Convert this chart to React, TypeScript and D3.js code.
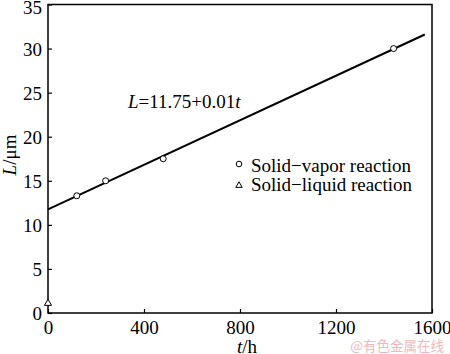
import React, { useEffect, useRef } from "react";
import * as d3 from "d3";

// measured points
const vaporT = [120, 240, 480, 1440];
const vaporL = [13.3, 15.0, 17.5, 30.0];
const liquidT = [0];
const liquidL = [1.1];
// fitted line as drawn in the figure
const fitT = [0, 1570];
const fitL = [11.75, 31.6];

const xTicks = [0, 400, 800, 1200, 1600];
const yTicks = [0, 5, 10, 15, 20, 25, 30, 35];
const legendLabels = ["Solid\u2212vapor reaction", "Solid\u2212liquid reaction"];

const App = () => {
  const ref = useRef<SVGSVGElement>(null);

  useEffect(() => {
    const width = 450;
    const height = 354;
    const m = { left: 48, right: 18, top: 4.5, bottom: 41 };
    const font = "'Liberation Serif', 'Times New Roman', serif";

    const svg = d3.select(ref.current);
    svg.selectAll("*").remove();

    const x = d3.scaleLinear().domain([0, 1600]).range([m.left, width - m.right]);
    const y = d3.scaleLinear().domain([0, 35]).range([height - m.bottom, m.top]);

    svg.append("rect").attr("width", width).attr("height", height).attr("fill", "#fff");

    // frame
    svg
      .append("rect")
      .attr("x", x(0))
      .attr("y", y(35))
      .attr("width", x(1600) - x(0))
      .attr("height", y(0) - y(35))
      .attr("fill", "none")
      .attr("stroke", "#000")
      .attr("stroke-width", 1.5);

    // bottom axis, ticks inward
    const xa = svg
      .append("g")
      .attr("transform", `translate(0,${y(0)})`)
      .call(d3.axisBottom(x).tickValues(xTicks).tickSize(-4).tickPadding(8).tickFormat(d3.format("d")));
    xa.select(".domain").remove();
    xa.selectAll("line").attr("stroke-width", 1.2);
    xa.selectAll("text").attr("font-family", font).attr("font-size", 19).attr("fill", "#000");

    // left axis, ticks inward
    const ya = svg
      .append("g")
      .attr("transform", `translate(${x(0)},0)`)
      .call(d3.axisLeft(y).tickValues(yTicks).tickSize(-4).tickPadding(6).tickFormat(d3.format("d")));
    ya.select(".domain").remove();
    ya.selectAll("line").attr("stroke-width", 1.2);
    ya.selectAll("text").attr("font-family", font).attr("font-size", 19).attr("fill", "#000");
    ya.selectAll<SVGTextElement, number>("text").attr("dy", (d) => (d === 35 ? "0.48em" : "0.36em"));

    // fitted line
    const line = d3
      .line<number>()
      .x((_, i) => x(fitT[i]))
      .y((d) => y(d));
    svg
      .append("path")
      .attr("d", line(fitL))
      .attr("fill", "none")
      .attr("stroke", "#000")
      .attr("stroke-width", 2);

    // circles
    svg
      .selectAll("circle.vap")
      .data(vaporL)
      .enter()
      .append("circle")
      .attr("class", "vap")
      .attr("cx", (_, i) => x(vaporT[i]))
      .attr("cy", (d) => y(d))
      .attr("r", 3)
      .attr("fill", "#fff")
      .attr("stroke", "#000")
      .attr("stroke-width", 1);

    // triangles
    const tri = d3.symbol().type(d3.symbolTriangle).size(22);
    svg
      .selectAll("path.liq")
      .data(liquidL)
      .enter()
      .append("path")
      .attr("class", "liq")
      .attr("d", tri)
      .attr("transform", (d, i) => `translate(${x(liquidT[i])},${y(d)})`)
      .attr("fill", "#fff")
      .attr("stroke", "#000")
      .attr("stroke-width", 1);

    // equation
    const eq = svg
      .append("text")
      .attr("x", 128)
      .attr("y", 108)
      .attr("font-family", font)
      .attr("font-size", 19)
      .attr("fill", "#000");
    eq.append("tspan").attr("font-style", "italic").text("L");
    eq.append("tspan").text("=11.75+0.01");
    eq.append("tspan").attr("font-style", "italic").text("t");

    // legend
    const lg = svg.append("g");
    lg.append("circle")
      .attr("cx", 239)
      .attr("cy", 164)
      .attr("r", 2.8)
      .attr("fill", "#fff")
      .attr("stroke", "#000");
    lg.append("path")
      .attr("d", d3.symbol().type(d3.symbolTriangle).size(18)())
      .attr("transform", "translate(239,185.5)")
      .attr("fill", "#fff")
      .attr("stroke", "#000");
    lg.selectAll("text")
      .data(legendLabels)
      .enter()
      .append("text")
      .attr("x", 251)
      .attr("y", (_, i) => 172 + i * 19)
      .attr("font-family", font)
      .attr("font-size", 19)
      .attr("fill", "#000")
      .text((d) => d);

    // axis titles
    const yl = svg
      .append("text")
      .attr("transform", "translate(16,155) rotate(-90)")
      .attr("text-anchor", "middle")
      .attr("font-family", font)
      .attr("font-size", 19)
      .attr("fill", "#000");
    yl.append("tspan").attr("font-style", "italic").text("L");
    yl.append("tspan").text("/\u03bcm");

    const xl = svg
      .append("text")
      .attr("x", 247)
      .attr("y", 352.5)
      .attr("text-anchor", "middle")
      .attr("font-family", font)
      .attr("font-size", 19)
      .attr("fill", "#000");
    xl.append("tspan").attr("font-style", "italic").text("t");
    xl.append("tspan").text("/h");

    // watermark
    svg
      .append("text")
      .attr("x", 444)
      .attr("y", 351)
      .attr("text-anchor", "end")
      .attr("font-family", "'Noto Sans CJK SC', sans-serif")
      .attr("font-size", 13.5)
      .attr("fill", "#f2b8bc")
      .text("@有色金属在线");
  }, []);

  return (
    <svg
      ref={ref}
      width={450}
      height={354}
      style={{ position: "absolute", left: 0, top: 0, display: "block" }}
    />
  );
};

export default App;
